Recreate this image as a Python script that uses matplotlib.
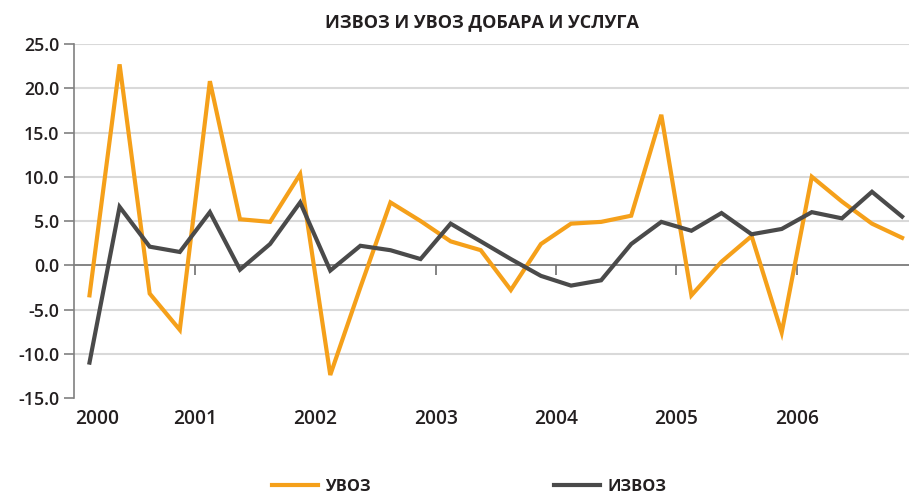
import matplotlib
matplotlib.use("Agg")
import matplotlib.pyplot as plt
import numpy as np
from matplotlib.lines import Line2D

years = ["2000", "2001", "2002", "2003", "2004", "2005", "2006"]
uvoz = [-3.4, 22.7, -3.2, -7.3, 20.8, 5.2, 4.9, 10.3,
        -12.4, -2.5, 7.1, 5.0, 2.7, 1.7, -2.8, 2.4,
        4.7, 4.9, 5.6, 17.0, -3.4, 0.4, 3.3, -7.6,
        10.0, 7.2, 4.7, 3.1]
izvoz = [-11.0, 6.6, 2.1, 1.5, 6.0, -0.5, 2.4, 7.1,
         -0.6, 2.2, 1.7, 0.7, 4.7, 2.7, 0.7, -1.2,
         -2.3, -1.7, 2.4, 4.9, 3.9, 5.9, 3.5, 4.1,
         6.0, 5.3, 8.3, 5.5]
yticks = [-15, -10, -5, 0, 5, 10, 15, 20, 25]

ORANGE = "#F5A01A"
GREY = "#4A4A4A"
TXT = "#231F20"
FONT = "Open Sans"

W, H = 909, 494
fig = plt.figure(figsize=(W / 100, H / 100), dpi=100)
ax = fig.add_axes([74 / W, 1 - 398 / H, (909 - 74) / W, (398 - 44) / H])

x = np.arange(len(uvoz))
ax.plot(x, uvoz, color=ORANGE, lw=3.0, solid_joinstyle="miter", zorder=3)
ax.plot(x, izvoz, color=GREY, lw=3.0, solid_joinstyle="miter", zorder=4)

ax.set_xlim(-0.515, 27.23)
ax.set_ylim(-15, 25)
ax.set_yticks(yticks)
ax.set_yticklabels([f"{v:.1f}" for v in yticks], fontsize=12.8, fontfamily=FONT,
                   color=TXT, fontweight="semibold")
ax.tick_params(axis="y", direction="out", length=7, width=1.2, color="#808080", pad=3.5)
ax.yaxis.grid(True, color="#d9d9d9", lw=1.5)
ax.set_axisbelow(True)
gl = ax.get_ygridlines()
for i, v in enumerate(yticks):
    if v in (-15, 0):
        gl[i].set_visible(False)

for s in ("top", "right"):
    ax.spines[s].set_visible(False)
ax.spines["left"].set_color("#808080")
ax.spines["left"].set_linewidth(1.2)
ax.spines["bottom"].set_position(("data", 0))
ax.spines["bottom"].set_color("#707070")
ax.spines["bottom"].set_linewidth(1.2)
ax.spines["bottom"].set_zorder(2)

tick_pos = [3.5 + 4 * k for k in range(6)]
ax.set_xticks(tick_pos)
ax.set_xticklabels([])
ax.tick_params(axis="x", direction="out", length=7, width=1.2, color="#707070")

label_pos = [0.24] + tick_pos
trans = matplotlib.transforms.blended_transform_factory(ax.transData, fig.transFigure)
for p, yr in zip(label_pos, years):
    ax.text(p, 1 - 419 / H, yr, transform=trans, ha="center", va="center",
            fontsize=13.8, fontfamily=FONT, fontweight="semibold", color=TXT)

fig.text(482 / W, 1 - 22 / H, "ИЗВОЗ И УВОЗ ДОБАРА И УСЛУГА", ha="center", va="center",
         fontsize=13.0, fontfamily=FONT, fontweight="bold", color=TXT)

handles = [Line2D([], [], color=ORANGE, lw=3), Line2D([], [], color=GREY, lw=3)]
leg = fig.legend(handles, ["УВОЗ", "ИЗВОЗ"], loc="center", ncol=2,
                 bbox_to_anchor=(469 / W, 1 - 487 / H), frameon=False,
                 handlelength=2.8, handletextpad=0.45, columnspacing=11.2,
                 prop={"family": FONT, "weight": "bold", "size": 11.8})
for t in leg.get_texts():
    t.set_color(TXT)

fig.savefig("out.png", dpi=100)
